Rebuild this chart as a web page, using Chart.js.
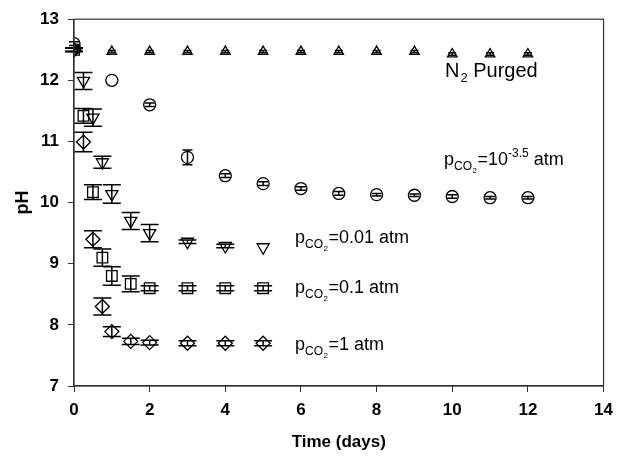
<!DOCTYPE html>
<html>
<head>
<meta charset="utf-8">
<script src="https://cdn.jsdelivr.net/npm/chart.js@4.4.1/dist/chart.umd.min.js"></script>
<style>
  html, body { margin: 0; padding: 0; background: #fff; }
  #wrap { width: 621px; height: 457px; position: relative; }
</style>
</head>
<body>
<div id="wrap"><canvas id="c" width="621" height="457"></canvas></div>
<script>
// ---- data ----
const xTicks = [0, 2, 4, 6, 8, 10, 12, 14];
const yTicks = [7, 8, 9, 10, 11, 12, 13];

const daysN2 = [0, 1, 2, 3, 4, 5, 6, 7, 8, 9, 10, 11, 12];
const pHN2   = [12.5, 12.47, 12.47, 12.47, 12.47, 12.47, 12.47, 12.47, 12.47, 12.47, 12.43, 12.43, 12.43];
const errN2  = [0.03, 0.02, 0.02, 0.02, 0.02, 0.02, 0.02, 0.02, 0.02, 0.02, 0.02, 0.02, 0.02];

const daysAmb = [0, 1, 2, 3, 4, 5, 6, 7, 8, 9, 10, 11, 12];
const pHAmb   = [12.6, 12.0, 11.6, 10.74, 10.44, 10.31, 10.23, 10.15, 10.13, 10.12, 10.1, 10.08, 10.08];
const errAmb  = [0.03, 0, 0.03, 0.12, 0.03, 0.03, 0.03, 0.03, 0.02, 0.02, 0.03, 0.02, 0.02];

const days001 = [0, 0.25, 0.5, 0.75, 1, 1.5, 2, 3, 4, 5];
const pH001   = [12.5, 11.99, 11.39, 10.66, 10.14, 9.70, 9.50, 9.36, 9.29, 9.27];
const err001  = [0.03, 0.14, 0.14, 0.10, 0.15, 0.14, 0.14, 0.03, 0.03, 0];

const days01 = [0, 0.25, 0.5, 0.75, 1, 1.5, 2, 3, 4, 5];
const pH01   = [12.5, 11.42, 10.17, 9.10, 8.80, 8.67, 8.60, 8.60, 8.60, 8.60];
const err01  = [0.03, 0.12, 0.12, 0.14, 0.15, 0.13, 0.04, 0.04, 0.04, 0.04];

const days1 = [0, 0.25, 0.5, 0.75, 1, 1.5, 2, 3, 4, 5];
const pH1   = [12.5, 10.99, 9.40, 8.30, 7.89, 7.73, 7.71, 7.70, 7.70, 7.70];
const err1  = [0.03, 0.16, 0.14, 0.14, 0.08, 0.05, 0.04, 0.04, 0.04, 0.04];

const seriesNames = ['N2 Purged', 'pCO2=10^-3.5 atm', 'pCO2=0.01 atm', 'pCO2=0.1 atm', 'pCO2=1 atm'];

// ---- build ----
function pts(xs, ys) { return xs.map((x, i) => ({ x: x, y: ys[i] })); }

const FONT = "'Liberation Sans', Arial, sans-serif";
const TXT = "'Liberation Sans', Arial, sans-serif";

function ds(label, xs, ys, errs, style, radius, rotation, cap) {
  return {
    label: label,
    data: pts(xs, ys),
    errors: errs,
    capHalf: cap,
    showLine: false,
    pointStyle: style,
    pointRadius: radius,
    pointHoverRadius: radius,
    pointRotation: rotation || 0,
    pointBorderWidth: 1.3,
    borderColor: '#000',
    backgroundColor: 'rgba(0,0,0,0)',
    pointBackgroundColor: 'rgba(0,0,0,0)',
    pointBorderColor: '#000'
  };
}

const errorBars = {
  id: 'errorBars',
  afterDatasetsDraw(chart) {
    const ctx = chart.ctx;
    const xs = chart.scales.x, ys = chart.scales.y;
    ctx.save();
    ctx.strokeStyle = '#000';
    ctx.lineWidth = 1.5;
    chart.data.datasets.forEach(d => {
      d.data.forEach((p, j) => {
        const e = d.errors[j];
        if (!e) return;
        const px = xs.getPixelForValue(p.x);
        const y1 = ys.getPixelForValue(p.y + e);
        const y2 = ys.getPixelForValue(p.y - e);
        const cap = d.capHalf;
        ctx.beginPath();
        ctx.moveTo(px, y1); ctx.lineTo(px, y2);
        ctx.moveTo(px - cap, y1); ctx.lineTo(px + cap, y1);
        ctx.moveTo(px - cap, y2); ctx.lineTo(px + cap, y2);
        ctx.stroke();
      });
    });
    ctx.restore();
  }
};

const frame = {
  id: 'frame',
  afterDraw(chart) {
    const a = chart.chartArea, ctx = chart.ctx;
    ctx.save();
    ctx.strokeStyle = '#333';
    ctx.lineWidth = 1.2;
    ctx.strokeRect(a.left, a.top, a.right - a.left, a.bottom - a.top);
    ctx.restore();
  }
};

function pco2(ctx, x, y, size, rest, sup, tail) {
  ctx.font = size + 'px ' + TXT;
  ctx.fillText('p', x, y);
  x += ctx.measureText('p').width;
  const s1 = Math.round(size * 0.65);
  ctx.font = s1 + 'px ' + TXT;
  ctx.fillText('CO', x, y + 5);
  x += ctx.measureText('CO').width;
  const s2 = Math.round(size * 0.45);
  ctx.font = s2 + 'px ' + TXT;
  ctx.fillText('2', x + 0.5, y + 8);
  x += ctx.measureText('2').width + 1;
  ctx.font = size + 'px ' + TXT;
  ctx.fillText(rest, x, y);
  x += ctx.measureText(rest).width;
  if (sup) {
    ctx.font = s1 + 'px ' + TXT;
    ctx.fillText(sup, x, y - 8);
    x += ctx.measureText(sup).width;
    ctx.font = size + 'px ' + TXT;
    ctx.fillText(tail, x, y);
  }
}

const notes = {
  id: 'notes',
  afterDraw(chart) {
    const ctx = chart.ctx;
    ctx.save();
    ctx.fillStyle = '#000';
    ctx.textBaseline = 'alphabetic';
    ctx.textAlign = 'left';
    // N2 Purged
    ctx.font = '20px ' + TXT;
    let x = 445, y = 77;
    ctx.fillText('N', x, y);
    x += ctx.measureText('N').width;
    ctx.font = '13px ' + TXT;
    ctx.fillText('2', x + 1, y + 5);
    x += ctx.measureText('2').width + 1;
    ctx.font = '20px ' + TXT;
    ctx.fillText(' Purged', x, y);

    pco2(ctx, 444, 165, 18, '=10', '-3.5', ' atm');
    pco2(ctx, 295, 243, 18, '=0.01 atm');
    pco2(ctx, 295, 293, 18, '=0.1 atm');
    pco2(ctx, 295, 350, 18, '=1 atm');
    ctx.restore();
  }
};

new Chart(document.getElementById('c'), {
  type: 'scatter',
  data: {
    datasets: [
      ds(seriesNames[0], daysN2, pHN2, errN2, 'triangle', 5.5, 0, 4),
      ds(seriesNames[1], daysAmb, pHAmb, errAmb, 'circle', 6, 0, 5),
      ds(seriesNames[2], days001, pH001, err001, 'triangle', 7, 180, 9),
      ds(seriesNames[3], days01, pH01, err01, 'rect', 7.5, 0, 9),
      ds(seriesNames[4], days1, pH1, err1, 'rectRot', 7, 0, 9)
    ]
  },
  options: {
    responsive: false,
    animation: false,
    layout: { padding: { left: 0, right: 11, top: 16, bottom: 0 } },
    plugins: { legend: { display: false }, tooltip: { enabled: false } },
    scales: {
      x: {
        type: 'linear', min: 0, max: 14,
        afterFit: s => { s.height = 71; },
        afterBuildTicks: s => { s.ticks = xTicks.map(v => ({ value: v })); },
        ticks: { color: '#000', font: { family: FONT, size: 17, weight: 'bold' }, padding: 8, maxRotation: 0 },
        grid: { drawOnChartArea: false, drawTicks: true, tickLength: 6, color: '#333' },
        border: { color: '#333', width: 1.2 },
        title: { display: true, text: 'Time (days)', color: '#000', font: { family: FONT, size: 17, weight: 'bold' }, padding: { top: 0, bottom: 4 } }
      },
      y: {
        type: 'linear', min: 7, max: 13,
        afterFit: s => { s.width = 74; },
        afterBuildTicks: s => { s.ticks = yTicks.map(v => ({ value: v })); },
        ticks: { color: '#000', font: { family: FONT, size: 17, weight: 'bold' }, padding: 9 },
        grid: { drawOnChartArea: false, drawTicks: true, tickLength: 6, color: '#333' },
        border: { color: '#333', width: 1.2 },
        title: { display: true, text: 'pH', color: '#000', font: { family: FONT, size: 18, weight: 'bold' }, padding: { top: 12, bottom: 0 } }
      }
    }
  },
  plugins: [errorBars, frame, notes]
});
</script>
</body>
</html>
